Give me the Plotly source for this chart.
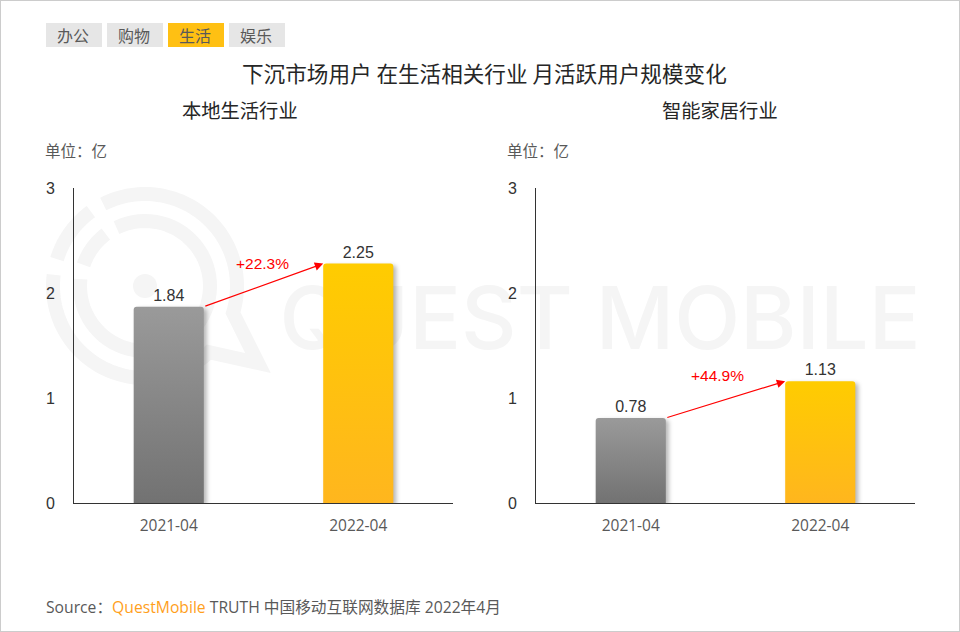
import numpy as np
import plotly.graph_objects as go

months = ["2021-04", "2022-04"]
local_life = [1.84, 2.25]
smart_home = [0.78, 1.13]
growth_labels = ["+22.3%", "+44.9%"]
panel_titles = ["本地生活行业", "智能家居行业"]
y_ticks = [0, 1, 2, 3]
tabs = ["办公", "购物", "生活", "娱乐"]
active_tab = "生活"

W, H = 960, 632
CJK = "Noto Sans CJK SC"
LATIN = "Liberation Sans"
# bars in the reference sit a little proud of the axis scale
BAR_PAD = 0.03
BAR_FRAC = 0.37


def px(x):
    return x / W


def py(y):
    return 1 - y / H


def arc_points(cx, cy, r, start, end):
    t = np.radians(np.linspace(start, end, 60))
    return [(cx + r * np.cos(a), cy + r * np.sin(a)) for a in t]


def to_path(points):
    return "M" + " L".join(f"{px(a):.5f},{py(b):.5f}" for a, b in points)


def label(x, y, text, size, color, family=CJK, anchor="center"):
    fig.add_annotation(x=px(x), y=py(y), xref="paper", yref="paper", text=text,
                       showarrow=False, xanchor=anchor, yanchor="middle",
                       font=dict(family=family, size=size, color=color))


fig = go.Figure()

panels = [("x", "y", local_life, growth_labels[0], 262, 263),
          ("x2", "y2", smart_home, growth_labels[1], 717, 375)]

for xa, ya, vals, growth, gx, gy in panels:
    fig.add_trace(go.Bar(
        x=months,
        y=[v + BAR_PAD for v in vals],
        text=[f"{v:.2f}" for v in vals],
        textposition="outside",
        cliponaxis=False,
        textfont=dict(family=LATIN, size=16, color="#333333"),
        marker=dict(color=["#8f8f8f", "#ffc60a"], line_width=0, cornerradius=3),
        width=BAR_FRAC,
        xaxis=xa,
        yaxis=ya,
        showlegend=False,
        hoverinfo="skip",
    ))
    fig.add_annotation(
        x=1 - BAR_FRAC / 2, y=vals[1] + BAR_PAD, ax=BAR_FRAC / 2, ay=vals[0] + BAR_PAD,
        xref=xa, yref=ya, axref=xa, ayref=ya,
        text="", showarrow=True, arrowhead=2, arrowsize=1.4, arrowwidth=1.2,
        arrowcolor="#ff0000",
    )
    label(gx, gy, growth, 15.5, "#ff0000", family=LATIN)

axis_x = dict(type="category", showline=True, linecolor="#333333", linewidth=1, ticks="",
              showgrid=False, zeroline=False, automargin=False, ticklabelstandoff=8,
              tickfont=dict(family="Open Sans", size=15.5, color="#595959"),
              range=[-0.5, 1.5])
axis_y = dict(showline=True, linecolor="#333333", linewidth=1, ticks="", showgrid=False,
              zeroline=False, tickvals=y_ticks, range=[0, 3], automargin=False,
              ticklabelstandoff=15, tickfont=dict(family=LATIN, size=16, color="#333333"))

fig.update_layout(
    width=W, height=H,
    margin=dict(l=0, r=0, t=0, b=0),
    paper_bgcolor="white", plot_bgcolor="rgba(0,0,0,0)",
    xaxis=dict(axis_x, domain=[px(74), px(453)], anchor="y"),
    yaxis=dict(axis_y, domain=[py(503), py(188)], anchor="x"),
    xaxis2=dict(axis_x, domain=[px(536), px(915)], anchor="y2"),
    yaxis2=dict(axis_y, domain=[py(503), py(188)], anchor="x2"),
)

shapes = []
# watermark logo
mark = "#f5f5f5"
outer_main = arc_points(145, 286, 92, -117, 17) + [(258, 363)] + arc_points(145, 286, 92, 46, 187)
logo_lines = [
    outer_main,
    arc_points(145, 286, 92, 197, 234),
    arc_points(145, 286, 65, -116, 186),
    arc_points(145, 286, 65, 199, 233),
]
for pts in logo_lines:
    shapes.append(dict(type="path", xref="paper", yref="paper", layer="below",
                       path=to_path(pts), line=dict(color=mark, width=14)))
shapes.append(dict(type="circle", xref="paper", yref="paper", layer="below",
                   x0=px(133), x1=px(157), y0=py(298), y1=py(274),
                   fillcolor=mark, line_width=0))
# watermark word
shapes.append(dict(type="rect", xref="paper", yref="paper", layer="below",
                   x0=px(280), x1=px(920), y0=py(360), y1=py(270), line_width=0,
                   fillcolor="rgba(0,0,0,0)",
                   label=dict(text="QUEST MOBILE", textposition="middle center",
                              font=dict(family="Inter", size=86, color=mark, weight=500))))
# outer frame
shapes.append(dict(type="rect", xref="paper", yref="paper", x0=0, x1=1, y0=0, y1=1,
                   line=dict(color="#cccccc", width=2), layer="below"))

# tab buttons
for i, name in enumerate(tabs):
    x0 = 46 + i * 61
    on = name == active_tab
    shapes.append(dict(type="rect", xref="paper", yref="paper", layer="below",
                       x0=px(x0), x1=px(x0 + 56), y0=py(47), y1=py(23), line_width=0,
                       fillcolor="#ffc013" if on else "#e6e6e6"))
    label(x0 + 27, 35, name, 16, "#595959")
fig.update_layout(shapes=shapes)

label(484, 73, "下沉市场用户 在生活相关行业 月活跃用户规模变化", 21.6, "#262626")
label(240, 110, panel_titles[0], 19.3, "#262626")
label(720, 110, panel_titles[1], 19.3, "#262626")
label(43, 150, "单位\uff1a亿", 15.5, "#595959", anchor="left")
label(505, 150, "单位\uff1a亿", 15.5, "#595959", anchor="left")
label(44, 607,
      'Source\uff1a<span style="color:#ff9f1c">QuestMobile</span> TRUTH 中国移动互联网数据库 2022年4月',
      15.7, "#595959", family="Open Sans, " + CJK, anchor="left")

# plotly bars have no gradient fill, so add it to the rendered svg
post = """
document.body.style.margin = '0';
var gd = document.querySelector('.plotly-graph-div');
var svg = gd.querySelector('svg.main-svg');
var ns = 'http://www.w3.org/2000/svg';
function grad(id, a, b) {
  var g = document.createElementNS(ns, 'linearGradient');
  g.setAttribute('id', id);
  g.setAttribute('x1', 0); g.setAttribute('y1', 0);
  g.setAttribute('x2', 0); g.setAttribute('y2', 1);
  [[0, a], [1, b]].forEach(function (s) {
    var st = document.createElementNS(ns, 'stop');
    st.setAttribute('offset', s[0]);
    st.setAttribute('stop-color', s[1]);
    g.appendChild(st);
  });
  svg.querySelector('defs').appendChild(g);
}
grad('barGrey', '#9a9a9a', '#727272');
grad('barGold', '#ffcc00', '#ffb61e');
gd.querySelectorAll('.bars .point path').forEach(function (p, i) {
  p.style.fill = i % 2 ? 'url(#barGold)' : 'url(#barGrey)';
  p.style.filter = 'drop-shadow(3px 2px 2px rgba(0,0,0,0.28))';
});
"""

fig.write_html("out.html", post_script=post, config=dict(displayModeBar=False))
